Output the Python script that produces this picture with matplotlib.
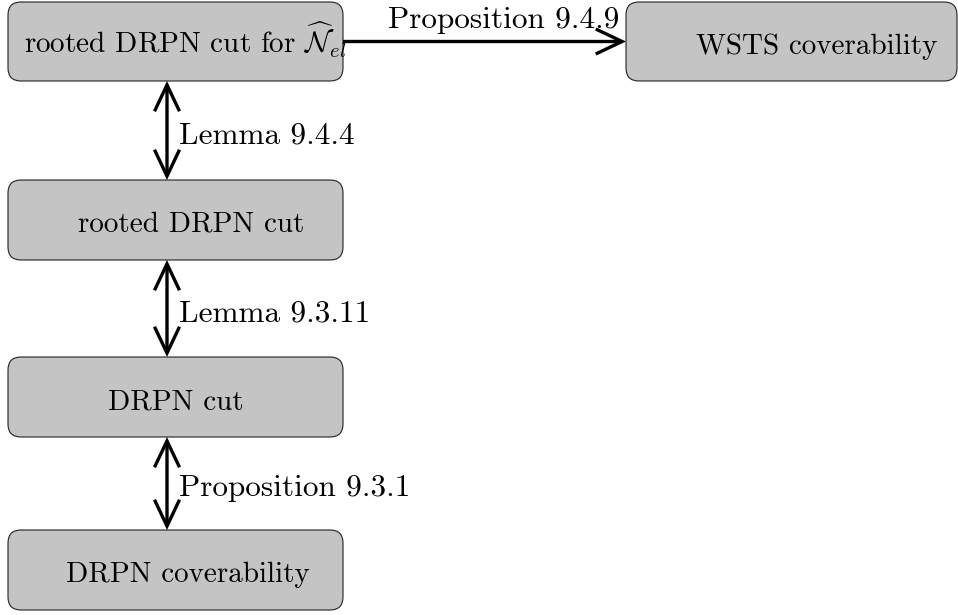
import matplotlib
matplotlib.use("Agg")
import matplotlib.pyplot as plt
from matplotlib.patches import FancyBboxPatch, FancyArrowPatch, ArrowStyle

plt.rcParams['font.family'] = ['cmr10', 'DejaVu Serif']
plt.rcParams['mathtext.fontset'] = 'cm'
plt.rcParams['axes.unicode_minus'] = False

# node labels
nodes = [
    r"rooted DRPN cut for $\widehat{\mathcal{N}}_{el}$",
    "rooted DRPN cut",
    "DRPN cut",
    "DRPN coverability",
    "WSTS coverability",
]
# edges: (from, to, label, two-way)
edges = [
    (0, 1, "Lemma 9.4.4", True),
    (1, 2, "Lemma 9.3.11", True),
    (2, 3, "Proposition 9.3.1", True),
    (0, 4, "Proposition 9.4.9", False),
]

# layout in pixels (x0, y0, x1, y1) and text centre x
box_xy = [(8, 2, 343, 81), (8, 180, 343, 260), (8, 357, 343, 437),
          (8, 530, 343, 610), (626, 2, 957, 81)]
text_cx = [185, 191, 176, 188, 817]

W, H = 958, 615
fig = plt.figure(figsize=(W / 100, H / 100), dpi=100)
ax = fig.add_axes([0, 0, 1, 1])
ax.set_xlim(0, W)
ax.set_ylim(H, 0)
ax.axis('off')

for (x0, y0, x1, y1), lab, cx in zip(box_xy, nodes, text_cx):
    ax.add_patch(FancyBboxPatch((x0, y0), x1 - x0, y1 - y0,
                                boxstyle="round,pad=0,rounding_size=13",
                                fc="#c4c4c4", ec="#222222", lw=0.8))
    ax.text(cx, (y0 + y1) / 2 + 12, lab, ha='center', va='baseline',
            fontsize=21)

ax_x = 167
for a, b, lab, both in edges:
    if both:
        p0 = (ax_x, box_xy[a][3])
        p1 = (ax_x, box_xy[b][1])
        style = ArrowStyle('<->', head_length=19, head_width=9)
    else:
        ym = (box_xy[a][1] + box_xy[a][3]) / 2
        p0 = (box_xy[a][2], ym)
        p1 = (box_xy[b][0], ym)
        style = ArrowStyle('->', head_length=19, head_width=9)
    ax.add_patch(FancyArrowPatch(p0, p1, arrowstyle=style, lw=2.4,
                                 color='black', shrinkA=0, shrinkB=0,
                                 joinstyle='miter', capstyle='butt'))
    if both:
        ax.text(ax_x + 12, (p0[1] + p1[1]) / 2 + 13, lab, ha='left',
                va='baseline', fontsize=22.5)
    else:
        ax.text(p1[0] - 7, p0[1] - 14, lab, ha='right', va='baseline',
                fontsize=22.5)

fig.savefig("out.png", dpi=100)
